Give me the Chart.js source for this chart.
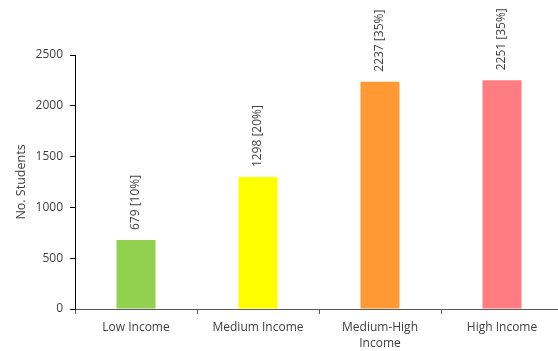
<!DOCTYPE html>
<html><head><meta charset="utf-8">
<script src="https://cdn.jsdelivr.net/npm/chart.js@4/dist/chart.umd.min.js"></script>
<style>html,body{margin:0;padding:0;overflow:hidden;background:#fff}#wrap{width:563px;height:351px;position:relative}</style>
</head><body><div id="wrap"><canvas id="c"></canvas></div>
<script>
const categories = [['Low Income'], ['Medium Income'], ['Medium-High', 'Income'], ['High Income']];
const students = [679, 1298, 2237, 2251];
const percents = ['10%', '20%', '35%', '35%'];
const barColors = ['#92D050', '#FFFF00', '#FF9933', '#FF7C80'];
const yTicks = [0, 500, 1000, 1500, 2000, 2500];

const labelPlugin = {
  id: 'rotLabels',
  afterDatasetsDraw(chart) {
    const ctx = chart.ctx;
    const meta = chart.getDatasetMeta(0);
    ctx.save();
    ctx.fillStyle = '#404040';
    ctx.font = '12px "Open Sans"';
    meta.data.forEach((bar, i) => {
      ctx.save();
      ctx.translate(bar.x, bar.y - 10);
      ctx.rotate(-Math.PI / 2);
      ctx.textAlign = 'left';
      ctx.textBaseline = 'middle';
      ctx.fillText(students[i] + ' [' + percents[i] + ']', 0, 0);
      ctx.restore();
    });
    ctx.restore();
  }
};

new Chart(document.getElementById('c'), {
  type: 'bar',
  data: {
    labels: categories,
    datasets: [{ data: students, backgroundColor: barColors, barPercentage: 0.32, categoryPercentage: 1 }]
  },
  options: {
    responsive: true,
    maintainAspectRatio: false,
    animation: false,
    layout: { padding: { top: 55, left: 0, right: 0, bottom: 0 } },
    plugins: { legend: { display: false }, tooltip: { enabled: false } },
    scales: {
      x: {
        grid: { drawOnChartArea: false, drawTicks: true, tickLength: 5, color: '#595959', offset: true },
        border: { color: '#595959', width: 1 },
        ticks: { color: '#404040', font: { family: '"Open Sans"', size: 12, lineHeight: 1.35 }, padding: 5, maxRotation: 0, autoSkip: false },
        afterFit(s) { s.height = 42; }
      },
      y: {
        min: 0, max: 2500,
        afterBuildTicks(s) { s.ticks = yTicks.map(v => ({ value: v })); },
        grid: { drawOnChartArea: false, drawTicks: true, tickLength: 5, color: '#000' },
        border: { color: '#000', width: 1 },
        ticks: { color: '#404040', font: { family: '"Open Sans"', size: 12 }, padding: 7, callback: v => String(v) },
        title: { display: true, text: 'No. Students', color: '#404040', font: { family: '"Open Sans"', size: 12.5 }, padding: { top: 14, bottom: 0 } },
        afterFit(s) { s.width = 75; }
      }
    }
  },
  plugins: [labelPlugin]
});
</script></body></html>
